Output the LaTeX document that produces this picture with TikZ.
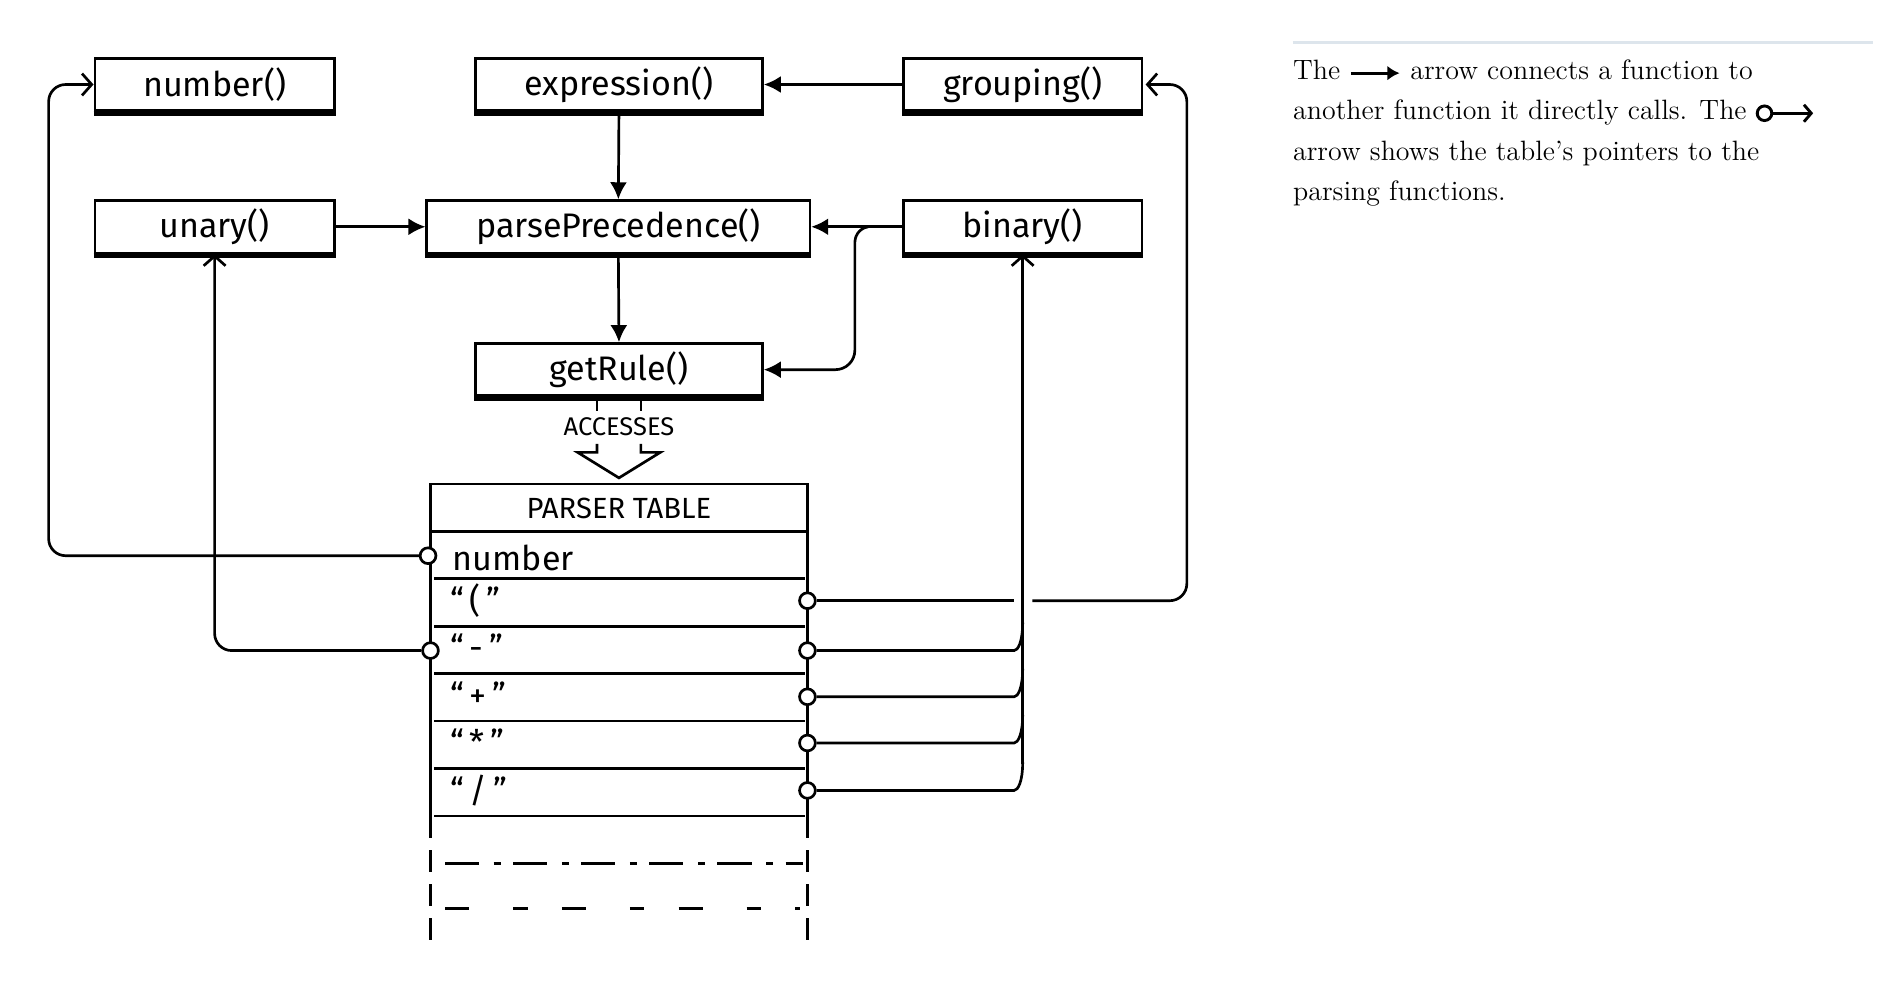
\documentclass[tikz,border=0pt]{standalone}
\usepackage{fontspec}
\newfontfamily\handfont{Fira Sans}
\usetikzlibrary{arrows.meta}
\newcommand\mycallarrow{\tikz[baseline=-0.55ex]\draw[line width=1.3pt,-{Latex[length=5pt,width=6pt]}] (0pt,0pt) -- (20pt,0pt);}
\newcommand\myptrarrow{\tikz[baseline=-0.55ex]{\draw[line width=1.2pt,-{Straight Barb[length=3pt,width=7pt]}] (3pt,0pt) -- (23pt,0pt);\draw[line width=1.2pt,fill=white] (3pt,0pt) circle[radius=3pt];}}
\begin{document}
\begin{tikzpicture}[x=0.5pt,y=-0.5pt,
  fn/.style={draw,line width=1.1pt,inner sep=0pt,minimum height=21.5pt,font=\handfont\fontsize{14}{16}\selectfont},
  call/.style={line width=1.1pt,-{Latex[length=7pt,width=7pt]}},
  wire/.style={line width=1.1pt,rounded corners=7pt},
  ptr/.style={wire,-{Straight Barb[length=4pt,width=9pt]}},
  hole/.style={circle,draw,fill=white,line width=1.1pt,minimum size=6.5pt,inner sep=0pt},
  cell/.style={font=\handfont\fontsize{14}{16}\selectfont,anchor=west,inner sep=0pt},
  tline/.style={line width=1.1pt},
]
\useasboundingbox (0,0) rectangle (1560,812);

% function boxes
\node[fn,minimum width=98.5pt] (fnum) at (176.5,69.5) {number()};
\node[fn,minimum width=118pt] (fexpr) at (509,69.5) {expression()};
\node[fn,minimum width=98pt] (fgroup) at (841,69.5) {grouping()};
\node[fn,minimum width=98.5pt] (funary) at (176.5,186.5) {unary()};
\node[fn,minimum width=157.5pt] (fprec) at (508.5,186.5) {parsePrecedence()};
\node[fn,minimum width=98pt] (fbin) at (841,186.5) {binary()};
\node[fn,minimum width=118pt] (frule) at (509,304) {getRule()};
\foreach \n in {fnum,fexpr,fgroup,funary,fprec,fbin,frule}
  \draw[line width=2.2pt] ([yshift=-0.6pt]\n.south west) -- ([yshift=-0.6pt]\n.south east);

% calls
\draw[call] (fgroup.west) -- (fexpr.east);
\draw[call] (fexpr.south) -- (fprec.north);
\draw[call] (funary.east) -- (fprec.west);
\draw[call] (fbin.west) -- (fprec.east);
\draw[call] (fprec.south) -- (frule.north);
\coordinate (split) at (714,186.5);
\draw[call,rounded corners=8pt] (split) .. controls (705,188) and (703,196) .. (703,215) -- (703,304) -- (frule.east);

% accesses
\node[font=\handfont\fontsize{10.5}{12}\selectfont,inner sep=0pt] (acc) at (509,351) {ACCESSES};
\draw[tline] (491,330) -- (491,338) (527,330) -- (527,338);
\draw[tline,line join=miter] (491,365) -- (491,372) -- (475,372) -- (509,393) -- (543,372) -- (527,372) -- (527,365);

% parser table
\node[font=\handfont\fontsize{12}{14}\selectfont] (ptitle) at (509,418) {PARSER TABLE};
\draw[tline] (354,671) -- (354,398) -- (664,398) -- (664,671);
\draw[tline] (354,437) -- (664,437);
\foreach \yy in {476,515,554,593,632,671}
  \draw[tline] (357,\yy) -- (662,\yy);
\draw[tline,dash pattern=on 9pt off 5pt] (354,671) -- (354,776);
\draw[tline,dash pattern=on 9pt off 5pt] (664,671) -- (664,776);
\draw[tline,dash pattern=on 14pt off 6pt on 3pt off 5pt] (366,710) -- (660,710);
\draw[tline,dash pattern=on 10pt off 18pt on 6pt off 14pt] (366,747) -- (658,747);

\node[cell] (rnum) at (372,459) {number};
\node[cell] (rparen) at (370,494) {“\,(\,”};
\node[cell] (rmin) at (370,532) {“\,-\,”};
\node[cell] (rplus) at (370,571) {“\,+\,”};
\node[cell] (rstar) at (370,610) {“\,*\,”};
\node[cell] (rslash) at (370,650) {“\,/\,”};

\node[hole] (cnum) at (352,457) {};
\node[hole] (cparen) at (664,494) {};
\node[hole] (cmin) at (354,535) {};
\node[hole] (cminR) at (664,535) {};
\node[hole] (cplus) at (664,573) {};
\node[hole] (cstar) at (664,611) {};
\node[hole] (cslash) at (664,650) {};

% pointers
\draw[ptr] (cnum.west) -- (40,457) |- (fnum.west);
\draw[ptr] (cmin.west) -| (funary.south);
\coordinate (hopL) at (834,494);
\coordinate (hopR) at (849,494);
\draw[wire] (cparen.east) -- (hopL);
\draw[ptr,shorten >=1pt] (hopR) -- (976,494) |- (fgroup.east);
\draw[wire] (cminR.east) -- (820,535) .. controls (837,535) and (841,528) .. (841,512);
\draw[wire] (cplus.east) -- (820,573) .. controls (837,573) and (841,566) .. (841,550);
\draw[wire] (cstar.east) -- (820,611) .. controls (837,611) and (841,604) .. (841,588);
\draw[wire] (cslash.east) -- (820,650) .. controls (837,650) and (841,643) .. (841,627);
\draw[ptr] (841,628) -- (fbin.south);

% caption
\draw[color={rgb,255:red,221;green,229;blue,236},line width=1pt] (1063,35) -- (1540,35);
\node[anchor=north west,align=left,inner sep=0pt,font=\fontsize{11.5}{16.5}\selectfont] (cap) at (1063,49)
 {The \mycallarrow{} arrow connects a function to\\another function it directly calls. The \myptrarrow\\arrow shows the table’s pointers to the\\parsing functions.};
\end{tikzpicture}
\end{document}
